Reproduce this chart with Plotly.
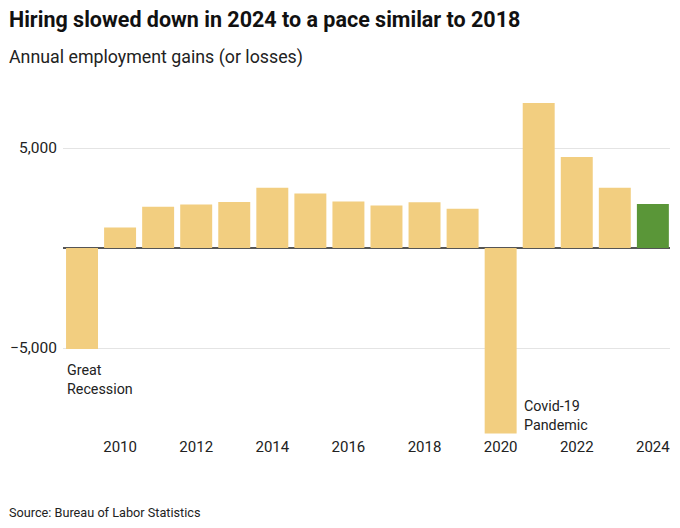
import plotly.graph_objects as go

years = list(range(2009, 2025))
# annual employment change, thousands
gains = [-5050, 1030, 2065, 2170, 2300, 3010, 2720, 2320, 2120,
         2290, 1960, -9270, 7250, 4550, 3010, 2200]
tick_years = [2010, 2012, 2014, 2016, 2018, 2020, 2022, 2024]

colors = ["#F2CE80"] * (len(years) - 1) + ["#5A9638"]

fig = go.Figure(go.Bar(x=years, y=gains, marker_color=colors,
                       marker_line_width=0, width=0.84))

font = "Roboto, Liberation Sans, sans-serif"
# page has an 8px body margin, so the figure is a little smaller
W, H = 672, 520
L, R, T, B = 55, 10, 80, 90
pw, ph = W - L - R, H - T - B

fig.update_layout(
    width=W, height=H,
    margin=dict(l=L, r=R, t=T, b=B),
    plot_bgcolor="white", paper_bgcolor="white",
    showlegend=False,
    font=dict(family=font, size=14, color="#222"),
    xaxis=dict(range=[2008.5, 2024.45], tickvals=tick_years, automargin=False,
               showgrid=False, zeroline=False, ticks="",
               tickfont=dict(size=15, color="#222"), ticklabelstandoff=-2),
    yaxis=dict(range=[-9500, 8000], tickvals=[-5000, 5000], automargin=False,
               ticktext=["\u22125,000", "5,000"],
               showgrid=True, gridcolor="#e4e4e4", gridwidth=1,
               zeroline=True, zerolinecolor="#555", zerolinewidth=1.5,
               ticks="", tickfont=dict(size=15.5, color="#222"),
               ticklabelstandoff=5),
)

# header and footer
fig.add_annotation(text="<b>Hiring slowed down in 2024 to a pace similar to 2018</b>",
                   xref="paper", yref="paper", x=-L / pw, y=1 + (T - 12) / ph,
                   xanchor="left", yanchor="middle", borderpad=0,
                   font=dict(size=21.5, color="#111", family=font), showarrow=False)
fig.add_annotation(text="Annual employment gains (or losses)",
                   xref="paper", yref="paper", x=-L / pw, y=1 + (T - 49) / ph,
                   xanchor="left", yanchor="middle", borderpad=0,
                   font=dict(size=17.8, color="#222", family=font), showarrow=False)
fig.add_annotation(text="Source: Bureau of Labor Statistics",
                   xref="paper", yref="paper", x=-L / pw, y=-(505 - (H - B)) / ph,
                   xanchor="left", yanchor="middle", borderpad=0,
                   font=dict(size=12.7, color="#222", family=font), showarrow=False)

fig.add_annotation(text="Great<br>Recession", x=2008.55, y=-5600,
                   xanchor="left", yanchor="top", align="left",
                   showarrow=False, font=dict(size=14.3, color="#222"))
fig.add_annotation(text="Covid-19<br>Pandemic", x=2020.58, y=-7400,
                   xanchor="left", yanchor="top", align="left", xshift=-1,
                   showarrow=False, font=dict(size=14.3, color="#222"))

fig.write_html("out.html")
